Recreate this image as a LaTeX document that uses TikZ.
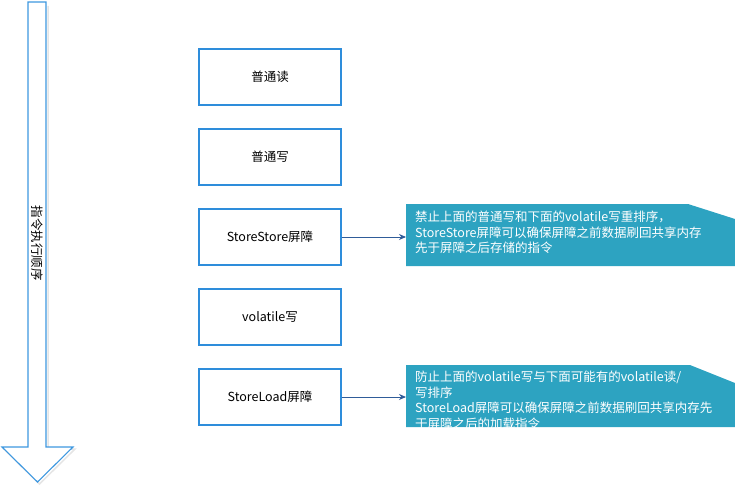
\documentclass[tikz,border=0pt]{standalone}
\usepackage{fontspec}
\setmainfont{Noto Sans CJK SC}
\usetikzlibrary{arrows.meta}
\definecolor{boxblue}{RGB}{46,141,219}
\definecolor{arrowblue}{RGB}{62,152,224}
\definecolor{noteteal}{RGB}{45,163,193}
\definecolor{linkblue}{RGB}{47,92,153}

\begin{document}
\begin{tikzpicture}[x=1pt,y=-1pt,
    stepbox/.style={draw=boxblue, line width=1.2pt, minimum width=142pt,
      minimum height=56pt, inner sep=0pt, font=\fontsize{12.5}{14}\selectfont},
    notetext/.style={anchor=north west, text=white, align=left, inner sep=0pt,
      font=\fontsize{12.5}{15.5}\selectfont},
    link/.style={linkblue, line width=0.9pt, -{Stealth[length=7pt,width=6pt]}}]
  \useasboundingbox (0,0) rectangle (735,487);

  % 1. the big arrow for the order of execution
  \draw[gray!20, line width=1.5pt, shift={(2,2)}] (46,4) -- (46,447) -- (73,447) -- (37.5,482) -- (2,447);
  \draw[arrowblue, line width=1.1pt, fill=white] (28,2) -- (46,2) -- (46,447) -- (73,447)
    -- (37.5,482) -- (2,447) -- (28,447) -- cycle;
  \node[rotate=-90, font=\fontsize{12.5}{14}\selectfont] (order) at (37,243) {指令执行顺序};

  % 2. the instructions
  \node[stepbox] (read)   at (270,77)  {普通读};
  \node[stepbox] (write)  at (270,157) {普通写};
  \node[stepbox] (ssbar)  at (270,237) {StoreStore屏障};
  \node[stepbox] (vwrite) at (270,317) {volatile写};
  \node[stepbox] (slbar)  at (270,397) {StoreLoad屏障};

  % 3. the notes
  \fill[noteteal] (406,204) -- (688,204) -- (735,219) -- (735,266) -- (406,266) -- cycle;
  \fill[noteteal] (406,365) -- (690,365) -- (735,383) -- (735,427) -- (406,427) -- cycle;
  \node[notetext] (ssnote) at (415,211)
    {禁止上面的普通写和下面的volatile写重排序，\\
     StoreStore屏障可以确保屏障之前数据刷回共享内存\\
     先于屏障之后存储的指令};
  \node[notetext] (slnote) at (415,371)
    {防止上面的volatile写与下面可能有的volatile读/\\
     写排序\\
     StoreLoad屏障可以确保屏障之前数据刷回共享内存先\\
     于屏障之后的加载指令};

  \draw[link] (ssbar.east) -- (ssbar.east -| 406,0);
  \draw[link] (slbar.east) -- (slbar.east -| 406,0);
\end{tikzpicture}
\end{document}
